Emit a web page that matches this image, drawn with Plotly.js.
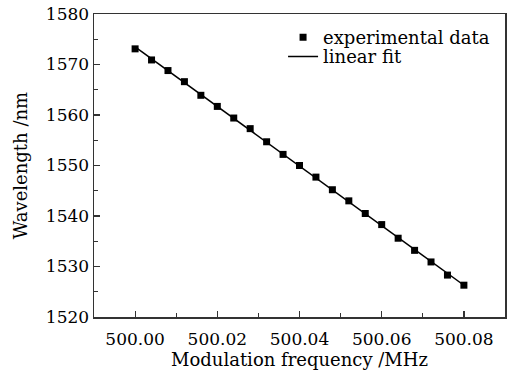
<!DOCTYPE html>
<html>
<head>
<meta charset="utf-8">
<script src="https://cdn.plot.ly/plotly-3.0.1.min.js"></script>
<style>html,body{margin:0;padding:0;background:#fff;}#chart{width:513px;height:370px;}</style>
</head>
<body>
<div id="chart"></div>
<script>
const frequency = [500.000, 500.004, 500.008, 500.012, 500.016, 500.020, 500.024, 500.028, 500.032, 500.036, 500.040, 500.044, 500.048, 500.052, 500.056, 500.060, 500.064, 500.068, 500.072, 500.076, 500.080];
const wavelength = [1573.1, 1570.9, 1568.8, 1566.6, 1563.9, 1561.7, 1559.4, 1557.3, 1554.7, 1552.2, 1550.0, 1547.7, 1545.2, 1543.0, 1540.5, 1538.3, 1535.6, 1533.2, 1530.9, 1528.3, 1526.3];
const xTicks = [500.00, 500.02, 500.04, 500.06, 500.08];
const xTickLabels = ["500.00", "500.02", "500.04", "500.06", "500.08"];
const yTicks = [1520, 1530, 1540, 1550, 1560, 1570, 1580];

// least-squares linear fit
const n = frequency.length;
const mx = frequency.reduce((a, b) => a + b, 0) / n;
const my = wavelength.reduce((a, b) => a + b, 0) / n;
let sxy = 0, sxx = 0;
for (let i = 0; i < n; i++) { sxy += (frequency[i] - mx) * (wavelength[i] - my); sxx += (frequency[i] - mx) ** 2; }
const slope = sxy / sxx, intercept = my - slope * mx;
const fitX = [frequency[0], frequency[n - 1]];
const fitY = fitX.map(x => intercept + slope * x);

const tickFont = {family: "DejaVu Serif, serif", size: 17, color: "#000"};
const titleFont = {family: "DejaVu Serif, serif", size: 18, color: "#000"};
const legendFont = {family: "DejaVu Serif, serif", size: 18, color: "#000"};
const data = [
  {x: frequency, y: wavelength, mode: "markers", type: "scatter", name: "experimental data",
   marker: {symbol: "square", size: 7, color: "#000"}, legend: "legend"},
  {x: fitX, y: fitY, mode: "lines", type: "scatter", name: "linear fit",
   line: {color: "#000", width: 1.5}, legend: "legend2"}
];
const axisCommon = {showgrid: false, zeroline: false, showline: true, mirror: true, linecolor: "#333", linewidth: 1.5,
  ticks: "inside", ticklen: 6, tickwidth: 1.2, tickcolor: "#333", tickfont: tickFont};
const layout = {
  width: 513, height: 370,
  margin: {l: 94, r: 8, t: 14, b: 53},
  paper_bgcolor: "#fff", plot_bgcolor: "#fff",
  font: tickFont,
  showlegend: true,
  legend: {x: 0.46, y: 0.922, xanchor: "left", yanchor: "middle", bgcolor: "rgba(0,0,0,0)", font: legendFont},
  legend2: {x: 0.46, y: 0.859, xanchor: "left", yanchor: "middle", bgcolor: "rgba(0,0,0,0)", font: legendFont},
  xaxis: Object.assign({}, axisCommon, {range: [499.99, 500.09], tickmode: "array", tickvals: xTicks, ticktext: xTickLabels,
    ticklabelstandoff: 6,
    minor: {dtick: 0.01, ticks: "inside", ticklen: 4, tickcolor: "#333", tickwidth: 1.2},
    title: {text: "Modulation frequency /MHz", font: titleFont, standoff: 2}}),
  yaxis: Object.assign({}, axisCommon, {range: [1520, 1580], tickmode: "array", tickvals: yTicks,
    minor: {dtick: 5, ticks: "inside", ticklen: 4, tickcolor: "#333", tickwidth: 1.2},
    title: {text: "Wavelength /nm\u00a0\u00a0", font: titleFont, standoff: 13}})
};
Plotly.newPlot("chart", data, layout, {displayModeBar: false, staticPlot: true});
</script>
</body>
</html>
